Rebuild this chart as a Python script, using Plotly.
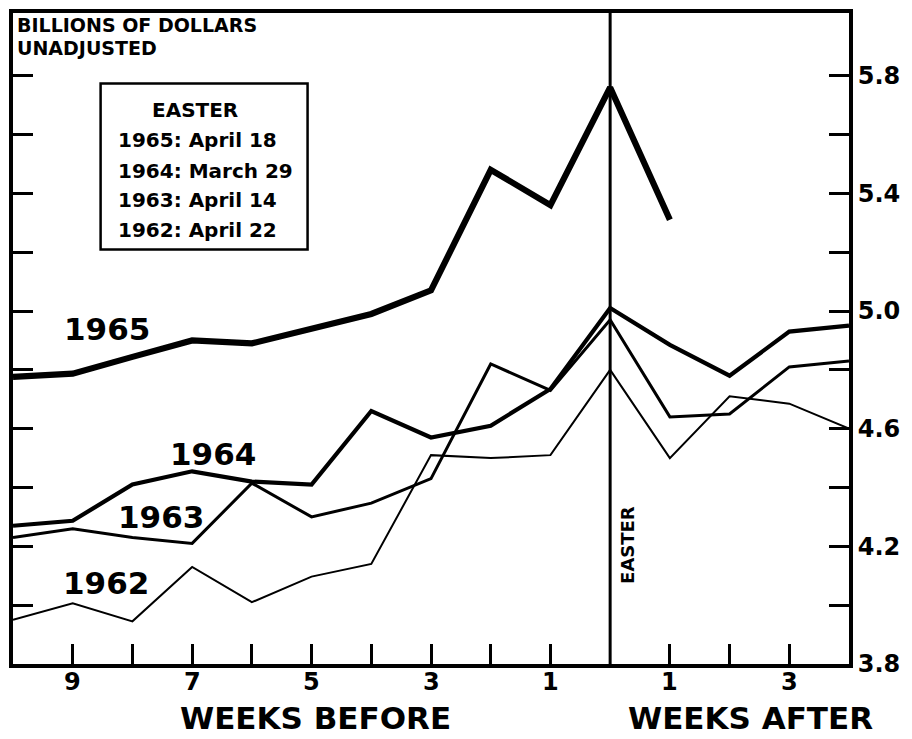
import plotly.graph_objects as go

# Weeks relative to Easter (negative = before, positive = after)
weeks = [-10, -9, -8, -7, -6, -5, -4, -3, -2, -1, 0, 1, 2, 3, 4]

sales_1965 = [4.776, 4.787, 4.844, 4.90, 4.89, 4.94, 4.99, 5.07, 5.48, 5.36, 5.76, 5.31, None, None, None]
sales_1964 = [4.27, 4.287, 4.41, 4.455, 4.42, 4.41, 4.66, 4.57, 4.61, 4.735, 5.01, 4.885, 4.78, 4.93, 4.95]
sales_1963 = [4.23, 4.26, 4.23, 4.21, 4.415, 4.30, 4.347, 4.43, 4.82, 4.73, 4.97, 4.64, 4.65, 4.81, 4.83]
sales_1962 = [3.95, 4.006, 3.945, 4.13, 4.01, 4.097, 4.14, 4.51, 4.50, 4.51, 4.80, 4.50, 4.71, 4.685, 4.60]

x_tick_vals = [-9, -8, -7, -6, -5, -4, -3, -2, -1, 1, 2, 3]
x_tick_text = ["9", "", "7", "", "5", "", "3", "", "1", "1", "", "3"]
y_tick_vals = [3.8, 4.0, 4.2, 4.4, 4.6, 4.8, 5.0, 5.2, 5.4, 5.6, 5.8]
y_tick_text = ["3.8", "", "4.2", "", "4.6", "", "5.0", "", "5.4", "", "5.8"]

easter_dates = ["1965: April 18", "1964: March 29", "1963: April 14", "1962: April 22"]

FONT = "DejaVu Sans"

fig = go.Figure()
series = [
    ("1962", sales_1962, 2.0),
    ("1963", sales_1963, 3.0),
    ("1964", sales_1964, 4.2),
    ("1965", sales_1965, 6.2),
]
for name, vals, w in series:
    fig.add_trace(go.Scatter(x=weeks, y=vals, mode="lines", name=name,
                             line=dict(color="black", width=w),
                             connectgaps=False, showlegend=False))

# Easter vertical line
fig.add_shape(type="line", x0=0, x1=0, y0=0, y1=1, xref="x", yref="paper",
              line=dict(color="black", width=3))

# Easter dates box
fig.add_shape(type="rect", x0=-8.533, x1=-5.067, y0=5.209, y1=5.773, xref="x", yref="y",
              line=dict(color="black", width=2.5), fillcolor="white")

annots = []
annots.append(dict(x=-6.95, y=5.682, text="<b>EASTER</b>", showarrow=False,
                   xanchor="center", yanchor="middle",
                   font=dict(family=FONT, size=20, color="black")))
for i, t in enumerate(easter_dates):
    annots.append(dict(x=-8.283, y=[5.58, 5.476, 5.378, 5.276][i], text="<b>%s</b>" % t,
                       showarrow=False, xanchor="left", yanchor="middle",
                       font=dict(family=FONT, size=20, color="black")))

# year labels
year_lab = [("1965", -8.43, 4.939), ("1964", -6.65, 4.513), ("1963", -7.52, 4.30), ("1962", -8.45, 4.074)]
for t, xx, yy in year_lab:
    annots.append(dict(x=xx, y=yy, text="<b>%s</b>" % t, showarrow=False,
                       xanchor="center", yanchor="middle",
                       font=dict(family=FONT, size=31, color="black")))

# EASTER vertical label
annots.append(dict(x=0.3, y=4.205, text="<b>EASTER</b>", showarrow=False, textangle=-90,
                   xanchor="center", yanchor="middle",
                   font=dict(family=FONT, size=18, color="black")))

# week-number labels under the x axis (placed at the axis' tick values)
for v, t in zip(x_tick_vals, x_tick_text):
    if t:
        annots.append(dict(x=v, y=-0.0046, xref="x", yref="paper", text="<b>%s</b>" % t,
                           showarrow=False, xanchor="center", yanchor="top", borderpad=0,
                           font=dict(family=FONT, size=24, color="black")))

# title
annots.append(dict(x=0.004, y=1.0, xref="paper", yref="paper", text="<b>BILLIONS OF DOLLARS</b>",
                   showarrow=False, xanchor="left", yanchor="top", borderpad=0,
                   font=dict(family=FONT, size=19, color="black")))
annots.append(dict(x=0.004, y=0.965, xref="paper", yref="paper", text="<b>UNADJUSTED</b>",
                   showarrow=False, xanchor="left", yanchor="top", borderpad=0,
                   font=dict(family=FONT, size=19, color="black")))

# axis titles
annots.append(dict(x=-4.93, y=-0.0824, xref="x", yref="paper", text="<b>WEEKS BEFORE</b>",
                   showarrow=False, xanchor="center", yanchor="middle", borderpad=0,
                   font=dict(family=FONT, size=31, color="black")))
annots.append(dict(x=2.35, y=-0.0824, xref="x", yref="paper", text="<b>WEEKS AFTER</b>",
                   showarrow=False, xanchor="center", yanchor="middle", borderpad=0,
                   font=dict(family=FONT, size=31, color="black")))

fig.update_layout(
    width=904, height=731,
    margin=dict(l=1, r=63, t=1, b=75),
    paper_bgcolor="white", plot_bgcolor="white",
    annotations=annots,
    xaxis=dict(range=[-10, 4], showgrid=False, zeroline=False,
               showline=True, linecolor="black", linewidth=4, mirror=True,
               ticks="inside", ticklen=20, tickwidth=2.5, tickcolor="black",
               tickvals=x_tick_vals, showticklabels=False),
    yaxis=dict(range=[3.8, 6.013], side="right", showgrid=False, zeroline=False,
               showline=True, linecolor="black", linewidth=4, mirror="ticks",
               ticks="inside", ticklen=20, tickwidth=2.5, tickcolor="black",
               tickvals=y_tick_vals, ticktext=y_tick_text,
               tickfont=dict(family=FONT, size=24, color="black", weight="bold")),
)

fig.write_html("out.html")
